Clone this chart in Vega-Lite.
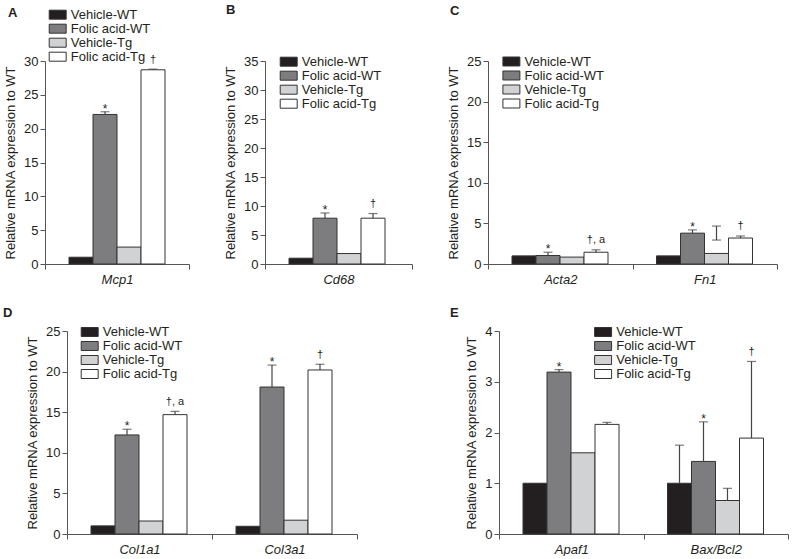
{
  "$schema": "https://vega.github.io/schema/vega-lite/v6.json",
  "autosize": {"type": "pad"},
  "padding": {"left": 3, "top": 4, "right": 0, "bottom": 0},
  "background": "white",
  "config": {
    "view": {"stroke": null},
    "font": "Liberation Sans",
    "axis": {"domainColor": "#555", "tickColor": "#555", "labelColor": "#231f20", "labelFont": "Liberation Sans", "labelFontSize": 13, "titleFont": "Liberation Sans", "titleFontSize": 13, "titleFontWeight": "normal", "titleColor": "#231f20", "grid": false, "tickSize": 5},
    "axisY": {"labelPadding": 2, "titlePadding": 6, "format": "d"},
    "axisX": {"labelFontStyle": "italic", "tickBand": "extent", "labelPadding": 4, "labelAngle": 0},
    "legend": {"orient": "none", "title": null, "symbolType": "M-2,-1.06H2V1.06H-2Z", "symbolSize": 72, "symbolStrokeColor": "#333", "symbolStrokeWidth": 1, "symbolOpacity": 1, "labelFontSize": 13, "labelFont": "Liberation Sans", "labelColor": "#231f20", "labelOffset": 6.6, "rowPadding": -2.0, "padding": 0},
    "title": {"font": "Liberation Sans", "fontSize": 13, "fontWeight": "bold", "color": "#231f20", "anchor": "start", "frame": "group", "baseline": "alphabetic"}
  },
  "data": {"values": [
    {"panel": "A", "gene": "Mcp1", "cond": "Vehicle-WT", "value": 1.0},
    {"panel": "A", "gene": "Mcp1", "cond": "Folic acid-WT", "value": 22.1, "lo": 22.1, "hi": 22.5, "lab": "*"},
    {"panel": "A", "gene": "Mcp1", "cond": "Vehicle-Tg", "value": 2.5},
    {"panel": "A", "gene": "Mcp1", "cond": "Folic acid-Tg", "value": 28.7, "lo": 28.7, "hi": 28.8, "lab": "†"},
    {"panel": "B", "gene": "Cd68", "cond": "Vehicle-WT", "value": 1.0},
    {"panel": "B", "gene": "Cd68", "cond": "Folic acid-WT", "value": 7.9, "lo": 7.9, "hi": 8.8, "lab": "*"},
    {"panel": "B", "gene": "Cd68", "cond": "Vehicle-Tg", "value": 1.8},
    {"panel": "B", "gene": "Cd68", "cond": "Folic acid-Tg", "value": 7.9, "lo": 7.9, "hi": 8.7, "lab": "†"},
    {"panel": "C", "gene": "Acta2", "cond": "Vehicle-WT", "value": 1.0},
    {"panel": "C", "gene": "Acta2", "cond": "Folic acid-WT", "value": 1.05, "lo": 1.05, "hi": 1.45, "lab": "*"},
    {"panel": "C", "gene": "Acta2", "cond": "Vehicle-Tg", "value": 0.85},
    {"panel": "C", "gene": "Acta2", "cond": "Folic acid-Tg", "value": 1.45, "lo": 1.45, "hi": 1.75, "lab": "†, a"},
    {"panel": "C", "gene": "Fn1", "cond": "Vehicle-WT", "value": 1.0},
    {"panel": "C", "gene": "Fn1", "cond": "Folic acid-WT", "value": 3.8, "lo": 3.8, "hi": 4.2, "lab": "*"},
    {"panel": "C", "gene": "Fn1", "cond": "Vehicle-Tg", "value": 1.3, "lo": 2.95, "hi": 4.67, "cap2": 2.95},
    {"panel": "C", "gene": "Fn1", "cond": "Folic acid-Tg", "value": 3.2, "lo": 3.2, "hi": 3.45, "lab": "†"},
    {"panel": "D", "gene": "Col1a1", "cond": "Vehicle-WT", "value": 1.0},
    {"panel": "D", "gene": "Col1a1", "cond": "Folic acid-WT", "value": 12.2, "lo": 12.2, "hi": 12.9, "lab": "*"},
    {"panel": "D", "gene": "Col1a1", "cond": "Vehicle-Tg", "value": 1.6},
    {"panel": "D", "gene": "Col1a1", "cond": "Folic acid-Tg", "value": 14.7, "lo": 14.7, "hi": 15.1, "lab": "†, a"},
    {"panel": "D", "gene": "Col3a1", "cond": "Vehicle-WT", "value": 0.95},
    {"panel": "D", "gene": "Col3a1", "cond": "Folic acid-WT", "value": 18.1, "lo": 18.1, "hi": 20.8, "lab": "*"},
    {"panel": "D", "gene": "Col3a1", "cond": "Vehicle-Tg", "value": 1.7},
    {"panel": "D", "gene": "Col3a1", "cond": "Folic acid-Tg", "value": 20.2, "lo": 20.2, "hi": 20.9, "lab": "†"},
    {"panel": "E", "gene": "Apaf1", "cond": "Vehicle-WT", "value": 1.0},
    {"panel": "E", "gene": "Apaf1", "cond": "Folic acid-WT", "value": 3.19, "lo": 3.19, "hi": 3.24, "lab": "*"},
    {"panel": "E", "gene": "Apaf1", "cond": "Vehicle-Tg", "value": 1.6},
    {"panel": "E", "gene": "Apaf1", "cond": "Folic acid-Tg", "value": 2.16, "lo": 2.16, "hi": 2.2},
    {"panel": "E", "gene": "Bax/Bcl2", "cond": "Vehicle-WT", "value": 1.0, "lo": 1.0, "hi": 1.75},
    {"panel": "E", "gene": "Bax/Bcl2", "cond": "Folic acid-WT", "value": 1.43, "lo": 1.43, "hi": 2.21, "lab": "*"},
    {"panel": "E", "gene": "Bax/Bcl2", "cond": "Vehicle-Tg", "value": 0.66, "lo": 0.66, "hi": 0.9},
    {"panel": "E", "gene": "Bax/Bcl2", "cond": "Folic acid-Tg", "value": 1.89, "lo": 1.89, "hi": 3.4, "lab": "†"}
  ]},
  "spacing": 21,
  "resolve": {"scale": {"fill": "independent"}, "legend": {"fill": "independent"}},
  "vconcat": [
    {
      "spacing": 76,
      "bounds": "flush",
      "resolve": {"scale": {"fill": "independent"}, "legend": {"fill": "independent"}},
      "hconcat": [
        {
          "width": 144, "height": 203,
          "title": {"text": "A", "dx": -37, "offset": -11.3},
          "transform": [{"filter": "datum.panel === 'A'"}],
          "encoding": {
            "x": {"field": "gene", "type": "nominal", "sort": null, "title": null, "scale": {"paddingInner": 0, "paddingOuter": 0}},
            "xOffset": {"field": "cond", "type": "nominal", "sort": ["Vehicle-WT", "Folic acid-WT", "Vehicle-Tg", "Folic acid-Tg"], "scale": {"domain": ["Vehicle-WT", "Folic acid-WT", "Vehicle-Tg", "Folic acid-Tg"], "paddingInner": 0, "paddingOuter": 1.29}}
          },
          "layer": [
            {"mark": {"type": "bar", "stroke": "#333", "strokeWidth": 1},
             "encoding": {
               "y": {"field": "value", "type": "quantitative", "title": "Relative mRNA expression to WT", "scale": {"domain": [0, 30], "nice": false}, "axis": {"values": [0, 5, 10, 15, 20, 25, 30]}},
               "fill": {"field": "cond", "type": "nominal", "scale": {"domain": ["Vehicle-WT", "Folic acid-WT", "Vehicle-Tg", "Folic acid-Tg"], "range": ["#231f20", "#7d7d7f", "#d1d2d3", "#ffffff"]}, "legend": {"legendX": 6.2, "legendY": -52.8}}
             }},
            {"transform": [{"filter": "datum.hi != null"}], "mark": {"type": "rule", "color": "#444", "strokeWidth": 1.2},
             "encoding": {"y": {"field": "lo", "type": "quantitative", "title": "Relative mRNA expression to WT", "scale": {"domain": [0, 30], "nice": false}, "axis": {"values": [0, 5, 10, 15, 20, 25, 30]}}, "y2": {"field": "hi"}}},
            {"transform": [{"filter": "datum.hi != null"}], "mark": {"type": "tick", "color": "#444", "size": 9, "thickness": 1.2},
             "encoding": {"y": {"field": "hi", "type": "quantitative", "title": "Relative mRNA expression to WT", "scale": {"domain": [0, 30], "nice": false}, "axis": {"values": [0, 5, 10, 15, 20, 25, 30]}}}},
            {"transform": [{"filter": "datum.lab === '*'"}], "mark": {"type": "text", "dy": 1, "baseline": "alphabetic", "fontSize": 12, "color": "#231f20"},
             "encoding": {"y": {"field": "hi", "type": "quantitative", "title": "Relative mRNA expression to WT", "scale": {"domain": [0, 30], "nice": false}, "axis": {"values": [0, 5, 10, 15, 20, 25, 30]}}, "text": {"field": "lab"}}},
            {"transform": [{"filter": "datum.lab != null && datum.lab !== '*'"}], "mark": {"type": "text", "dy": -6.5, "baseline": "alphabetic", "fontSize": 11, "color": "#231f20"},
             "encoding": {"y": {"field": "hi", "type": "quantitative", "title": "Relative mRNA expression to WT", "scale": {"domain": [0, 30], "nice": false}, "axis": {"values": [0, 5, 10, 15, 20, 25, 30]}}, "text": {"field": "lab"}}}
          ]
        },
        {
          "width": 147, "height": 203,
          "title": {"text": "B", "dx": -39, "offset": 37.7},
          "transform": [{"filter": "datum.panel === 'B'"}],
          "encoding": {
            "x": {"field": "gene", "type": "nominal", "sort": null, "title": null, "scale": {"paddingInner": 0, "paddingOuter": 0}},
            "xOffset": {"field": "cond", "type": "nominal", "sort": ["Vehicle-WT", "Folic acid-WT", "Vehicle-Tg", "Folic acid-Tg"], "scale": {"domain": ["Vehicle-WT", "Folic acid-WT", "Vehicle-Tg", "Folic acid-Tg"], "paddingInner": 0, "paddingOuter": 1.29}}
          },
          "layer": [
            {"mark": {"type": "bar", "stroke": "#333", "strokeWidth": 1},
             "encoding": {
               "y": {"field": "value", "type": "quantitative", "title": "Relative mRNA expression to WT", "scale": {"domain": [0, 35], "nice": false}, "axis": {"values": [0, 5, 10, 15, 20, 25, 30, 35]}},
               "fill": {"field": "cond", "type": "nominal", "scale": {"domain": ["Vehicle-WT", "Folic acid-WT", "Vehicle-Tg", "Folic acid-Tg"], "range": ["#231f20", "#7d7d7f", "#d1d2d3", "#ffffff"]}, "legend": {"legendX": 17.2, "legendY": -5.8}}
             }},
            {"transform": [{"filter": "datum.hi != null"}], "mark": {"type": "rule", "color": "#444", "strokeWidth": 1.2},
             "encoding": {"y": {"field": "lo", "type": "quantitative", "title": "Relative mRNA expression to WT", "scale": {"domain": [0, 35], "nice": false}, "axis": {"values": [0, 5, 10, 15, 20, 25, 30, 35]}}, "y2": {"field": "hi"}}},
            {"transform": [{"filter": "datum.hi != null"}], "mark": {"type": "tick", "color": "#444", "size": 9, "thickness": 1.2},
             "encoding": {"y": {"field": "hi", "type": "quantitative", "title": "Relative mRNA expression to WT", "scale": {"domain": [0, 35], "nice": false}, "axis": {"values": [0, 5, 10, 15, 20, 25, 30, 35]}}}},
            {"transform": [{"filter": "datum.lab === '*'"}], "mark": {"type": "text", "dy": 1, "baseline": "alphabetic", "fontSize": 12, "color": "#231f20"},
             "encoding": {"y": {"field": "hi", "type": "quantitative", "title": "Relative mRNA expression to WT", "scale": {"domain": [0, 35], "nice": false}, "axis": {"values": [0, 5, 10, 15, 20, 25, 30, 35]}}, "text": {"field": "lab"}}},
            {"transform": [{"filter": "datum.lab != null && datum.lab !== '*'"}], "mark": {"type": "text", "dy": -6.5, "baseline": "alphabetic", "fontSize": 11, "color": "#231f20"},
             "encoding": {"y": {"field": "hi", "type": "quantitative", "title": "Relative mRNA expression to WT", "scale": {"domain": [0, 35], "nice": false}, "axis": {"values": [0, 5, 10, 15, 20, 25, 30, 35]}}, "text": {"field": "lab"}}}
          ]
        },
        {
          "width": 289, "height": 203,
          "title": {"text": "C", "dx": -38, "offset": 37.5},
          "transform": [{"filter": "datum.panel === 'C'"}],
          "encoding": {
            "x": {"field": "gene", "type": "nominal", "sort": null, "title": null, "scale": {"paddingInner": 0, "paddingOuter": 0}},
            "xOffset": {"field": "cond", "type": "nominal", "sort": ["Vehicle-WT", "Folic acid-WT", "Vehicle-Tg", "Folic acid-Tg"], "scale": {"domain": ["Vehicle-WT", "Folic acid-WT", "Vehicle-Tg", "Folic acid-Tg"], "paddingInner": 0, "paddingOuter": 1.29}}
          },
          "layer": [
            {"mark": {"type": "bar", "stroke": "#333", "strokeWidth": 1},
             "encoding": {
               "y": {"field": "value", "type": "quantitative", "title": "Relative mRNA expression to WT", "scale": {"domain": [0, 25], "nice": false}, "axis": {"values": [0, 5, 10, 15, 20, 25]}},
               "fill": {"field": "cond", "type": "nominal", "scale": {"domain": ["Vehicle-WT", "Folic acid-WT", "Vehicle-Tg", "Folic acid-Tg"], "range": ["#231f20", "#7d7d7f", "#d1d2d3", "#ffffff"]}, "legend": {"legendX": 16.9, "legendY": -6.0}}
             }},
            {"transform": [{"filter": "datum.hi != null"}], "mark": {"type": "rule", "color": "#444", "strokeWidth": 1.2},
             "encoding": {"y": {"field": "lo", "type": "quantitative", "title": "Relative mRNA expression to WT", "scale": {"domain": [0, 25], "nice": false}, "axis": {"values": [0, 5, 10, 15, 20, 25]}}, "y2": {"field": "hi"}}},
            {"transform": [{"filter": "datum.hi != null"}], "mark": {"type": "tick", "color": "#444", "size": 9, "thickness": 1.2},
             "encoding": {"y": {"field": "hi", "type": "quantitative", "title": "Relative mRNA expression to WT", "scale": {"domain": [0, 25], "nice": false}, "axis": {"values": [0, 5, 10, 15, 20, 25]}}}},
            {"transform": [{"filter": "datum.cap2 != null"}], "mark": {"type": "tick", "color": "#444", "size": 9, "thickness": 1.2},
             "encoding": {"y": {"field": "cap2", "type": "quantitative", "title": "Relative mRNA expression to WT", "scale": {"domain": [0, 25], "nice": false}, "axis": {"values": [0, 5, 10, 15, 20, 25]}}}},
            {"transform": [{"filter": "datum.lab === '*'"}], "mark": {"type": "text", "dy": 1, "baseline": "alphabetic", "fontSize": 12, "color": "#231f20"},
             "encoding": {"y": {"field": "hi", "type": "quantitative", "title": "Relative mRNA expression to WT", "scale": {"domain": [0, 25], "nice": false}, "axis": {"values": [0, 5, 10, 15, 20, 25]}}, "text": {"field": "lab"}}},
            {"transform": [{"filter": "datum.lab != null && datum.lab !== '*'"}], "mark": {"type": "text", "dy": -6.5, "baseline": "alphabetic", "fontSize": 11, "color": "#231f20"},
             "encoding": {"y": {"field": "hi", "type": "quantitative", "title": "Relative mRNA expression to WT", "scale": {"domain": [0, 25], "nice": false}, "axis": {"values": [0, 5, 10, 15, 20, 25]}}, "text": {"field": "lab"}}}
          ]
        }
      ]
    },
    {
      "spacing": 142,
      "bounds": "flush",
      "resolve": {"scale": {"fill": "independent"}, "legend": {"fill": "independent"}},
      "hconcat": [
        {
          "width": 312, "height": 203,
          "title": {"text": "D", "dx": -42, "offset": 5},
          "transform": [{"filter": "datum.panel === 'D'"}],
          "encoding": {
            "x": {"field": "gene", "type": "nominal", "sort": null, "title": null, "scale": {"paddingInner": 0, "paddingOuter": 0, "range": [22, 312]}},
            "xOffset": {"field": "cond", "type": "nominal", "sort": ["Vehicle-WT", "Folic acid-WT", "Vehicle-Tg", "Folic acid-Tg"], "scale": {"domain": ["Vehicle-WT", "Folic acid-WT", "Vehicle-Tg", "Folic acid-Tg"], "paddingInner": 0, "paddingOuter": 1.29}}
          },
          "layer": [
            {"mark": {"type": "bar", "stroke": "#333", "strokeWidth": 1},
             "encoding": {
               "y": {"field": "value", "type": "quantitative", "title": "Relative mRNA expression to WT", "scale": {"domain": [0, 25], "nice": false}, "axis": {"values": [0, 5, 10, 15, 20, 25], "offset": -22}},
               "fill": {"field": "cond", "type": "nominal", "scale": {"domain": ["Vehicle-WT", "Folic acid-WT", "Vehicle-Tg", "Folic acid-Tg"], "range": ["#231f20", "#7d7d7f", "#d1d2d3", "#ffffff"]}, "legend": {"legendX": 38.2, "legendY": -5.5}}
             }},
            {"transform": [{"filter": "datum.hi != null"}], "mark": {"type": "rule", "color": "#444", "strokeWidth": 1.2},
             "encoding": {"y": {"field": "lo", "type": "quantitative", "title": "Relative mRNA expression to WT", "scale": {"domain": [0, 25], "nice": false}, "axis": {"values": [0, 5, 10, 15, 20, 25], "offset": -22}}, "y2": {"field": "hi"}}},
            {"transform": [{"filter": "datum.hi != null"}], "mark": {"type": "tick", "color": "#444", "size": 9, "thickness": 1.2},
             "encoding": {"y": {"field": "hi", "type": "quantitative", "title": "Relative mRNA expression to WT", "scale": {"domain": [0, 25], "nice": false}, "axis": {"values": [0, 5, 10, 15, 20, 25], "offset": -22}}}},
            {"transform": [{"filter": "datum.lab === '*'"}], "mark": {"type": "text", "dy": 1, "baseline": "alphabetic", "fontSize": 12, "color": "#231f20"},
             "encoding": {"y": {"field": "hi", "type": "quantitative", "title": "Relative mRNA expression to WT", "scale": {"domain": [0, 25], "nice": false}, "axis": {"values": [0, 5, 10, 15, 20, 25], "offset": -22}}, "text": {"field": "lab"}}},
            {"transform": [{"filter": "datum.lab != null && datum.lab !== '*'"}], "mark": {"type": "text", "dy": -6.5, "baseline": "alphabetic", "fontSize": 11, "color": "#231f20"},
             "encoding": {"y": {"field": "hi", "type": "quantitative", "title": "Relative mRNA expression to WT", "scale": {"domain": [0, 25], "nice": false}, "axis": {"values": [0, 5, 10, 15, 20, 25], "offset": -22}}, "text": {"field": "lab"}}}
          ]
        },
        {
          "width": 289, "height": 203,
          "title": {"text": "E", "dx": -49, "offset": 5},
          "transform": [{"filter": "datum.panel === 'E'"}],
          "encoding": {
            "x": {"field": "gene", "type": "nominal", "sort": null, "title": null, "scale": {"paddingInner": 0, "paddingOuter": 0}},
            "xOffset": {"field": "cond", "type": "nominal", "sort": ["Vehicle-WT", "Folic acid-WT", "Vehicle-Tg", "Folic acid-Tg"], "scale": {"domain": ["Vehicle-WT", "Folic acid-WT", "Vehicle-Tg", "Folic acid-Tg"], "paddingInner": 0, "paddingOuter": 1.29}}
          },
          "layer": [
            {"mark": {"type": "bar", "stroke": "#333", "strokeWidth": 1},
             "encoding": {
               "y": {"field": "value", "type": "quantitative", "title": "Relative mRNA expression to WT", "scale": {"domain": [0, 4], "nice": false}, "axis": {"values": [0, 1, 2, 3, 4]}},
               "fill": {"field": "cond", "type": "nominal", "scale": {"domain": ["Vehicle-WT", "Folic acid-WT", "Vehicle-Tg", "Folic acid-Tg"], "range": ["#231f20", "#7d7d7f", "#d1d2d3", "#ffffff"]}, "legend": {"legendX": 97.6, "legendY": -5.5}}
             }},
            {"transform": [{"filter": "datum.hi != null"}], "mark": {"type": "rule", "color": "#444", "strokeWidth": 1.2},
             "encoding": {"y": {"field": "lo", "type": "quantitative", "title": "Relative mRNA expression to WT", "scale": {"domain": [0, 4], "nice": false}, "axis": {"values": [0, 1, 2, 3, 4]}}, "y2": {"field": "hi"}}},
            {"transform": [{"filter": "datum.hi != null"}], "mark": {"type": "tick", "color": "#444", "size": 9, "thickness": 1.2},
             "encoding": {"y": {"field": "hi", "type": "quantitative", "title": "Relative mRNA expression to WT", "scale": {"domain": [0, 4], "nice": false}, "axis": {"values": [0, 1, 2, 3, 4]}}}},
            {"transform": [{"filter": "datum.lab === '*'"}], "mark": {"type": "text", "dy": 1, "baseline": "alphabetic", "fontSize": 12, "color": "#231f20"},
             "encoding": {"y": {"field": "hi", "type": "quantitative", "title": "Relative mRNA expression to WT", "scale": {"domain": [0, 4], "nice": false}, "axis": {"values": [0, 1, 2, 3, 4]}}, "text": {"field": "lab"}}},
            {"transform": [{"filter": "datum.lab != null && datum.lab !== '*'"}], "mark": {"type": "text", "dy": -6.5, "baseline": "alphabetic", "fontSize": 11, "color": "#231f20"},
             "encoding": {"y": {"field": "hi", "type": "quantitative", "title": "Relative mRNA expression to WT", "scale": {"domain": [0, 4], "nice": false}, "axis": {"values": [0, 1, 2, 3, 4]}}, "text": {"field": "lab"}}}
          ]
        }
      ]
    }
  ]
}
